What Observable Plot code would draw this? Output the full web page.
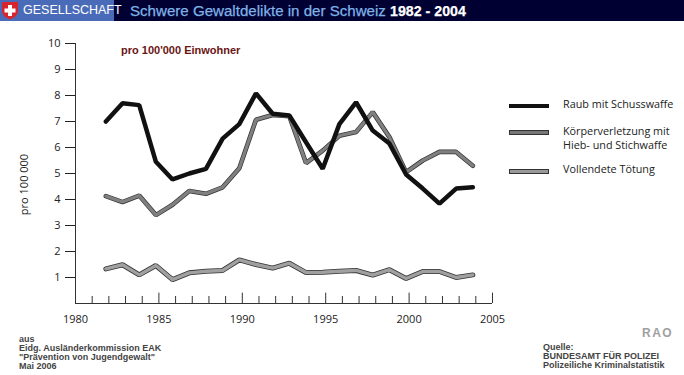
<!DOCTYPE html>
<html><head><meta charset="utf-8">
<script src="https://cdn.jsdelivr.net/npm/d3@7"></script>
<script src="https://cdn.jsdelivr.net/npm/@observablehq/plot@0.6"></script>
<style>
html,body{margin:0;padding:0;background:#fff;overflow:hidden}
#page{position:relative;width:684px;height:375px;overflow:hidden}
.abs{position:absolute;white-space:nowrap}
#band{left:0;top:0;width:684px;height:21px;background:#000033}
#tag{left:0;top:0;width:114px;height:21px;background:#4a6cb8}
#flag{left:1px;top:1px}
#gs{left:23px;top:3px;font:12.5px/15px "Liberation Sans";color:#fff}
#ttl{left:130px;top:1px;font:15.1px/19px "Liberation Sans";color:#7fb3e6;-webkit-text-stroke:.25px}
#ttl b{color:#fff;font-size:14.2px}
#sub{left:121px;top:43px;font:bold 11px/14px "Liberation Sans";color:#6b1414}
.leg{left:563px;font:10.8px/14px "Open Sans";color:#222}
.sw{position:absolute;left:509px;width:40px;box-sizing:border-box}
.foot{font:bold 9px/9px "Liberation Sans";color:#444}
#rao{left:642px;top:326px;font:bold 12px/14px "Liberation Sans";color:#a0a0a0;letter-spacing:1.5px}
#plot{position:absolute;left:0;top:21px}
</style></head><body>
<div id="page">
<div class="abs" id="band"></div><div class="abs" id="tag"></div>
<svg class="abs" id="flag" width="18" height="19" viewBox="0 0 18 19"><path d="M1 1H17V10C17 14 13 17 9 18.5C5 17 1 14 1 10Z" fill="#d8242c"/><path d="M7 4H11V7.5H14.5V11.5H11V15H7V11.5H3.5V7.5H7Z" fill="#fff"/></svg>
<div class="abs" id="gs">GESELLSCHAFT</div>
<div class="abs" id="ttl">Schwere Gewaltdelikte in der Schweiz <b>1982 - 2004</b></div>
<div id="plot"></div>
<div class="abs" id="sub">pro 100'000 Einwohner</div>
<div class="sw" style="top:104px;height:4px;background:#111"></div>
<div class="abs leg" style="top:97px">Raub mit Schusswaffe</div>
<div class="sw" style="top:130px;height:5px;background:#777;border:1px solid #333"></div>
<div class="abs leg" style="top:124px">Körperverletzung mit<br>Hieb- und Stichwaffe</div>
<div class="sw" style="top:169px;height:5px;background:#999;border:1px solid #333"></div>
<div class="abs leg" style="top:162px">Vollendete Tötung</div>
<div class="abs foot" style="left:19px;top:335px">aus<br>Eidg. Ausländerkommission EAK<br>"Prävention von Jugendgewalt"<br>Mai 2006</div>
<div class="abs foot" style="left:543px;top:343px">Quelle:<br>BUNDESAMT FÜR POLIZEI<br>Polizeiliche Kriminalstatistik</div>
<div class="abs" id="rao">RAO</div>
</div>
<script>
const years = d3.range(1982, 2005);
const raub = [7.0,7.7,7.63,5.45,4.77,5.0,5.18,6.34,6.9,8.08,7.3,7.23,6.2,5.18,6.9,7.74,6.65,6.15,4.96,4.42,3.84,4.42,4.47];
const koerper = [4.13,3.9,4.15,3.4,3.8,4.33,4.22,4.47,5.2,7.07,7.25,7.2,5.4,5.88,6.45,6.6,7.36,6.4,5.05,5.5,5.83,5.83,5.3];
const toetung = [1.33,1.49,1.1,1.46,0.92,1.18,1.24,1.27,1.68,1.5,1.36,1.55,1.19,1.2,1.24,1.27,1.09,1.3,0.96,1.23,1.23,1.0,1.1];
const minorYears = d3.range(1981, 2005).filter(y => y % 5);
const majorYears = d3.range(1985, 2006, 5);
const xLabels = d3.range(1980, 2006, 5);
const yLabels = d3.range(1, 11);
const row = v => years.map((y, i) => ({year: y, v: v[i]}));
const font = "Open Sans";
const shift = -3;
const chart = Plot.plot({
  width: 684, height: 354,
  marginLeft: 75, marginRight: 192, marginTop: 22, marginBottom: 72,
  x: {domain: [1980, 2005]},
  y: {domain: [0, 10]},
  style: {fontFamily: font, fontSize: "11px", color: "#222", background: "transparent"},
  marks: [
    Plot.ruleX([1980], {y1: 0, y2: 10, stroke: "#333"}),
    Plot.ruleY([0], {x1: 1980, x2: 2005, stroke: "#333"}),
    Plot.ruleX(minorYears, {y1: 0, y2: 0.27, stroke: "#333"}),
    Plot.ruleX(majorYears, {y1: 0, y2: 0.4, stroke: "#333"}),
    Plot.axisY({ticks: yLabels, tickSize: 10, tickPadding: 5, tickFormat: String, label: null, fontSize: 11}),
    Plot.axisX({ticks: xLabels, tickSize: 0, tickPadding: 12, tickFormat: String, label: null, fontSize: 11}),
    Plot.line(row(toetung), {x: "year", y: "v", dx: shift, stroke: "#333", strokeWidth: 5, strokeLinejoin: "miter"}),
    Plot.line(row(toetung), {x: "year", y: "v", dx: shift, stroke: "#a0a0a0", strokeWidth: 3.4, strokeLinejoin: "miter"}),
    Plot.line(row(koerper), {x: "year", y: "v", dx: shift, stroke: "#333", strokeWidth: 4.6, strokeLinejoin: "miter"}),
    Plot.line(row(koerper), {x: "year", y: "v", dx: shift, stroke: "#808080", strokeWidth: 3.2, strokeLinejoin: "miter"}),
    Plot.line(row(raub), {x: "year", y: "v", dx: shift, stroke: "#111", strokeWidth: 4.5, strokeLinejoin: "miter"}),
    Plot.text(["pro 100 000"], {frameAnchor: "left", textAnchor: "middle", dx: -51, dy: 11, rotate: -90, fontSize: 11, fill: "#222"})
  ]
});
document.getElementById("plot").append(chart);
</script>
</body></html>
